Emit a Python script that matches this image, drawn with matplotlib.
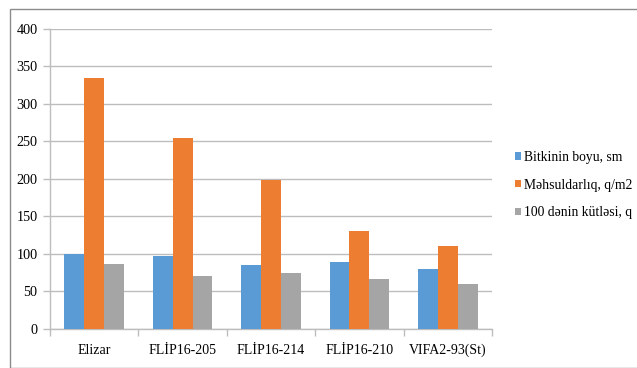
import numpy as np
import matplotlib
matplotlib.use("Agg")
import matplotlib.pyplot as plt
from matplotlib.patches import Rectangle

categories = ["Elizar", "FLİP16-205", "FLİP16-214", "FLİP16-210", "VIFA2-93(St)"]
series_names = ["Bitkinin boyu, sm", "Məhsuldarlıq, q/m2", "100 dənin kütləsi, q"]
plant_height = [100, 97, 85, 89, 80]
yield_qm2 = [335, 254, 198, 131, 111]
grain_mass = [87, 71, 74, 67, 60]
y_ticks = [0, 50, 100, 150, 200, 250, 300, 350, 400]

colors = ["#5B9BD5", "#ED7D31", "#A5A5A5"]
axis_gray = "#BDBDBD"

SERIF = ["Liberation Serif", "DejaVu Serif"]
plt.rcParams["font.family"] = SERIF

W, H = 637, 368
fig = plt.figure(figsize=(W / 100, H / 100), dpi=100)
ax = fig.add_axes([50 / W, 1 - 328.7 / H, 442 / W, 299.7 / H])

# outer chart frame
fig.patches.append(Rectangle((10 / W, 0), 1.0, 1 - 9 / H, transform=fig.transFigure,
                             fill=False, edgecolor="#8C8C8C", linewidth=1.0))

x = np.arange(len(categories))
bw = 0.224
for i, (vals, c, name) in enumerate(zip([plant_height, yield_qm2, grain_mass], colors, series_names)):
    ax.bar(x + (i - 1) * bw, vals, width=bw, color=c, label=name, zorder=3)

ax.set_xlim(-0.5, len(categories) - 0.5)
ax.set_ylim(0, 400)
ax.set_yticks(y_ticks)
ax.yaxis.grid(True, color=axis_gray, linewidth=1.0, zorder=0)
ax.set_axisbelow(True)
for s in ["top", "right"]:
    ax.spines[s].set_visible(False)
for s in ["bottom", "left"]:
    ax.spines[s].set_color(axis_gray)
    ax.spines[s].set_linewidth(1.0)
ax.tick_params(axis="y", length=5, width=1.0, color=axis_gray, pad=4, labelsize=10.2)
ax.set_xticks(x)
ax.set_xticklabels(categories, fontsize=10.0)
ax.tick_params(axis="x", length=0, pad=11)
ax.set_xticks(np.arange(-0.5, len(categories)), minor=True)
ax.tick_params(axis="x", which="minor", length=5, color=axis_gray, width=1.0)

leg = ax.legend(loc="center left", bbox_to_anchor=(515 / W, 1 - 185 / H), bbox_transform=fig.transFigure,
                frameon=False, prop={"family": SERIF, "size": 9.8},
                handlelength=0.45, handleheight=0.45,
                handletextpad=0.2, labelspacing=1.07, borderaxespad=0, borderpad=0)

fig.savefig("out.png", dpi=100)
